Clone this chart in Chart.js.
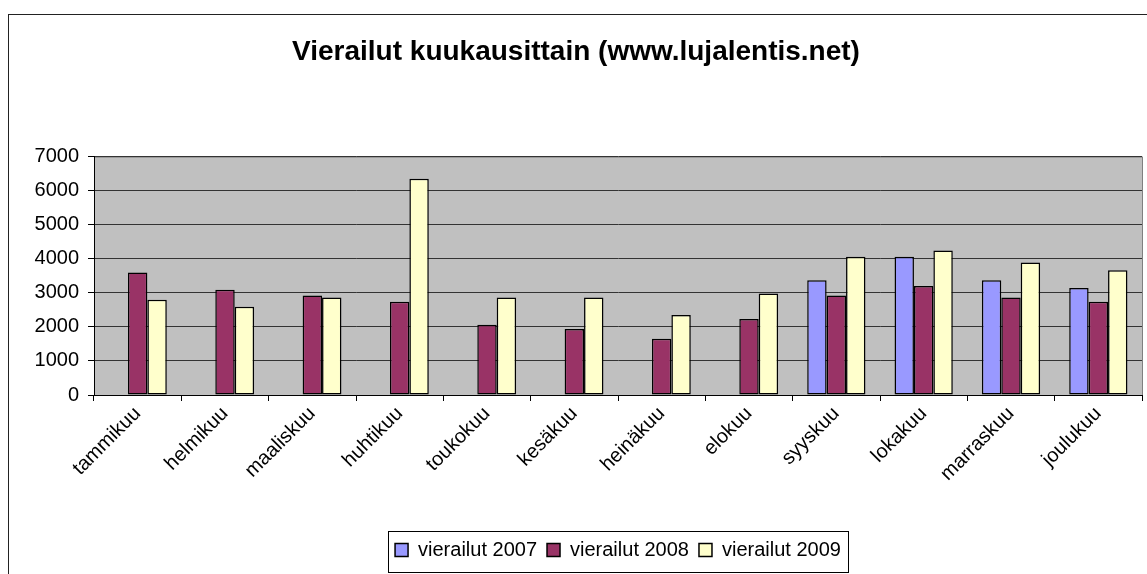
<!DOCTYPE html>
<html lang="fi">
<head>
<meta charset="UTF-8">
<title>Vierailut kuukausittain</title>
<script src="https://cdn.jsdelivr.net/npm/chart.js"></script>
<style>
  html, body { margin: 0; padding: 0; background: #fff; }
  #wrap { width: 1147px; height: 574px; }
</style>
</head>
<body>
<div id="wrap"><canvas id="chart" width="1147" height="574"></canvas></div>
<script>
  // data
  const categories = ['tammikuu', 'helmikuu', 'maaliskuu', 'huhtikuu', 'toukokuu', 'kesäkuu',
                      'heinäkuu', 'elokuu', 'syyskuu', 'lokakuu', 'marraskuu', 'joulukuu'];
  const seriesNames = ['vierailut 2007', 'vierailut 2008', 'vierailut 2009'];
  const visits2007 = [null, null, null, null, null, null, null, null, 3370, 4060, 3370, 3140];
  const visits2008 = [3600, 3090, 2920, 2740, 2060, 1940, 1650, 2230, 2920, 3200, 2860, 2740];
  const visits2009 = [2800, 2590, 2860, 6350, 2860, 2860, 2350, 2980, 4060, 4240, 3890, 3660];
  const yTicks = [0, 1000, 2000, 3000, 4000, 5000, 6000, 7000];

  const FONT = 'Arial, "Liberation Sans", sans-serif';

  // grey plot area, frame round the whole chart, box round the legend
  const excelLook = {
    id: 'excelLook',
    afterLayout(chart) {
      // legend sits centred under the plot area, not the whole canvas
      const lg = chart.legend;
      const a = chart.chartArea;
      const shift = (a.left + a.right) / 2 - (lg.left + lg.right) / 2;
      lg.left += shift;
      lg.right += shift;
    },
    beforeDraw(chart) {
      const { ctx, chartArea: a } = chart;
      ctx.save();
      ctx.fillStyle = '#c0c0c0';
      ctx.fillRect(a.left, a.top, a.right - a.left, a.bottom - a.top);
      ctx.strokeStyle = '#808080';
      ctx.lineWidth = 1;
      ctx.strokeRect(a.left + 0.5, a.top + 0.5, a.right - a.left, a.bottom - a.top);
      ctx.restore();
    },
    afterDraw(chart) {
      const ctx = chart.ctx;
      ctx.save();
      ctx.strokeStyle = '#222';
      ctx.lineWidth = 1;
      ctx.strokeRect(8.5, 14.5, 1200, 700);
      const lg = chart.legend;
      const w = lg.lineWidths[0];
      const cx = (lg.left + lg.right) / 2;
      const t = lg.top + lg.options.labels.padding;
      ctx.strokeStyle = '#000';
      ctx.strokeRect(Math.round(cx - w / 2 - 2) + 0.5, Math.round(t - 9) + 0.5, Math.round(w + 4), 41);
      ctx.restore();
    }
  };

  const ctx = document.getElementById('chart').getContext('2d');
  new Chart(ctx, {
    type: 'bar',
    data: {
      labels: categories,
      datasets: [
        { label: seriesNames[0], data: visits2007, backgroundColor: '#9999ff' },
        { label: seriesNames[1], data: visits2008, backgroundColor: '#993366' },
        { label: seriesNames[2], data: visits2009, backgroundColor: '#ffffcc' }
      ]
    },
    options: {
      responsive: false,
      animation: false,
      layout: { padding: { left: 10, right: 5, top: 0, bottom: 4 } },
      datasets: {
        bar: {
          borderColor: '#000',
          borderWidth: 1.5,
          borderSkipped: false,
          categoryPercentage: 0.667,
          barPercentage: 1.0
        }
      },
      plugins: {
        title: {
          display: true,
          text: 'Vierailut kuukausittain (www.lujalentis.net)',
          color: '#000',
          font: { family: FONT, size: 28, weight: 'bold' },
          padding: { top: 35, bottom: 88 }
        },
        legend: {
          position: 'bottom',
          labels: {
            color: '#000',
            font: { family: FONT, size: 20 },
            boxWidth: 13,
            boxHeight: 13,
            padding: 10,
            useBorderRadius: false
          }
        },
        tooltip: { enabled: false }
      },
      scales: {
        x: {
          afterFit(scale) { scale.height = 135; },
          grid: {
            display: true,
            drawOnChartArea: false,
            drawTicks: true,
            tickLength: 6,
            tickColor: '#000',
            offset: true
          },
          border: { color: '#000', width: 1 },
          ticks: {
            color: '#000',
            font: { family: FONT, size: 20 },
            minRotation: 45,
            maxRotation: 45,
            padding: 1,
            autoSkip: false
          }
        },
        y: {
          min: 0,
          max: 7000,
          afterFit(scale) { scale.width = 84; },
          afterBuildTicks(scale) { scale.ticks = yTicks.map(v => ({ value: v })); },
          grid: {
            color: '#333',
            lineWidth: 1,
            tickLength: 6,
            tickColor: '#000'
          },
          border: { color: '#000', width: 1 },
          ticks: {
            color: '#000',
            font: { family: FONT, size: 20 },
            padding: 9,
            callback: v => String(v)
          }
        }
      }
    },
    plugins: [excelLook]
  });
</script>
</body>
</html>
